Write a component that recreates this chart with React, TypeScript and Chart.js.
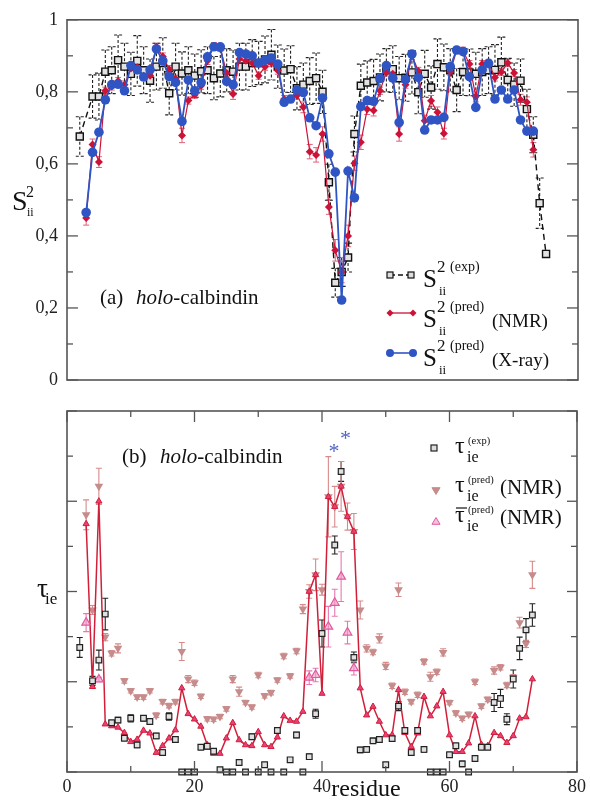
import React, { useEffect, useRef } from 'react';
import { Chart, registerables } from 'chart.js';
Chart.register(...registerables);

const SERIF = '"Liberation Serif", "Times New Roman", serif';

// residue numbers
const residues = [2,3,4,5,6,7,8,9,10,11,12,13,14,15,16,17,18,19,20,21,22,23,24,25,26,27,28,29,30,31,32,33,34,35,36,37,38,39,40,41,42,43,44,45,46,47,48,49,50,51,52,53,54,55,56,57,58,59,60,61,62,63,64,65,66,67,68,69,70,71,72,73,74,75];

// (a) order parameters S2
const topExp = [0.676,null,0.787,0.787,0.856,0.86,0.888,0.87,0.85,0.886,0.86,0.831,0.87,0.88,0.796,0.87,0.851,0.86,0.845,0.857,0.86,0.838,0.851,0.86,0.856,0.87,0.87,0.88,0.88,0.89,0.903,0.87,0.859,0.863,0.81,0.82,0.83,0.838,0.80,0.549,0.27,0.30,0.34,0.683,0.817,0.826,0.83,0.84,0.86,0.863,0.838,0.839,0.854,0.799,0.85,0.812,0.877,0.868,0.86,0.805,0.855,0.854,0.85,0.855,0.86,0.861,0.882,0.833,0.82,0.831,0.752,0.681,0.491,0.35];
const topExpErr = [0.055,0,0.06,0.065,0.06,0.065,0.07,0.065,0.06,0.07,0.065,0.06,0.065,0.07,0.06,0.065,0.06,0.065,0.06,0.06,0.065,0.06,0.065,0.06,0.06,0.065,0.065,0.065,0.06,0.065,0.07,0.06,0.06,0.065,0.06,0.06,0.065,0.07,0.06,0.05,0.04,0.04,0.04,0.05,0.06,0.06,0.06,0.065,0.06,0.065,0.06,0.065,0.06,0.06,0.065,0.06,0.07,0.065,0.06,0.06,0.065,0.065,0.06,0.065,0.065,0.07,0.07,0.06,0.06,0.06,0.055,0.05,0.07,0];
const topNMR = [null,0.45,0.654,0.605,0.803,0.815,0.83,0.82,0.865,0.868,0.845,0.845,0.925,0.898,0.863,0.836,0.679,0.776,0.792,0.817,0.886,0.927,0.922,0.852,0.794,0.891,0.886,0.88,0.845,0.87,0.88,0.859,0.78,0.78,0.79,0.757,0.634,0.625,0.683,0.48,0.36,0.30,0.40,0.602,0.66,0.752,0.748,0.803,0.854,0.85,0.683,0.82,0.9,0.858,0.72,0.775,0.743,0.684,0.855,0.916,0.914,0.877,0.787,0.877,0.88,0.84,0.855,0.88,0.852,0.778,0.771,0.639,null,null];
const topNMRErr = [0,0.02,0.015,0.015,0.01,0.01,0.01,0.01,0.01,0.01,0.01,0.01,0.01,0.01,0.01,0.01,0.02,0.01,0.01,0.01,0.01,0.01,0.01,0.01,0.015,0.01,0.01,0.01,0.01,0.01,0.01,0.01,0.01,0.01,0.01,0.015,0.02,0.02,0.02,0.02,0.03,0.03,0.03,0.02,0.02,0.015,0.015,0.01,0.01,0.01,0.02,0.01,0.01,0.01,0.015,0.015,0.015,0.015,0.01,0.01,0.01,0.01,0.015,0.01,0.01,0.01,0.01,0.01,0.01,0.015,0.015,0.02,0,0];
const topXray = [null,0.465,0.632,0.688,0.778,0.82,0.821,0.803,0.873,0.861,0.841,0.861,0.919,0.886,0.842,0.826,0.718,0.833,0.803,0.826,0.897,0.925,0.925,0.829,0.82,0.909,0.905,0.9,0.88,0.888,0.894,0.877,0.771,0.78,0.805,0.798,0.728,0.706,0.783,0.628,0.577,0.222,0.58,0.506,0.759,0.776,0.774,0.837,0.873,0.838,0.715,0.834,0.905,0.84,0.694,0.722,0.722,0.729,0.87,0.916,0.912,0.842,0.757,0.861,0.879,0.78,0.805,0.78,0.805,0.722,0.691,0.691,null,null];
const topYTicks = [0, 0.2, 0.4, 0.6, 0.8, 1];

// (b) correlation times tau_ie (residues 2..73)
const botExp = [2.76,null,2.02,2.48,3.50,1.09,1.15,0.75,1.19,0.60,1.19,1.12,0.80,0.43,1.23,0.72,0,0,0,0.55,0.57,0.46,0.05,0,0,0.21,0,0.78,0,0.16,0,0.92,0,0.27,0.82,0,0.34,1.29,3.07,null,5.03,6.66,null,2.54,0.49,0.50,0.69,0.72,0.16,0.74,1.46,0.92,0.43,0.92,0.50,0,0,0,0.38,0.58,0.18,0,0.30,0.55,0.55,1.54,1.63,1.17,2.06,2.74,3.15,3.48];
const botExpErr = [0.22,0,0.1,0.22,0.35,0.06,0.06,0.06,0.08,0.06,0.06,0.06,0.06,0.06,0.08,0.06,0.05,0.05,0.05,0.06,0.06,0.06,0.05,0.05,0.05,0.06,0.05,0.06,0.05,0.05,0.05,0.06,0.05,0.05,0.06,0.05,0.06,0.1,0.3,0,0.2,0.22,0,0.12,0.06,0.06,0.06,0.06,0.05,0.06,0.1,0.06,0.06,0.06,0.06,0.05,0.05,0.05,0.06,0.06,0.06,0.05,0.06,0.06,0.06,0.2,0.2,0.12,0.2,0.25,0.25,0.25];
const botPredNMR = [null,5.70,3.59,6.33,2.99,2.63,2.74,2.02,1.80,1.66,1.66,1.80,1.26,1.56,1.47,1.56,2.67,2.06,1.98,1.68,1.18,1.17,1.23,1.40,2.06,1.78,1.54,1.44,2.15,1.69,1.76,2.04,2.57,2.13,2.68,3.61,4.00,4.37,4.04,6.10,5.88,6.33,5.66,5.33,3.59,2.74,2.66,2.96,2.35,1.91,4.04,1.78,1.56,1.71,2.45,2.11,2.22,2.65,1.54,1.31,1.19,1.28,2.00,1.46,1.61,2.25,2.32,1.93,2.10,3.31,2.84,4.37];
const botPredNMRErr = [0,0.33,0.1,0.4,0.08,0.06,0.1,0.05,0.05,0.05,0.05,0.05,0.05,0.05,0.05,0.05,0.2,0.08,0.06,0.05,0.05,0.05,0.05,0.05,0.08,0.1,0.05,0.05,0.06,0.05,0.05,0.05,0.06,0.05,0.06,0.1,0.15,0.35,0.12,0.89,0.45,0.55,0.3,0.4,0.2,0.08,0.06,0.1,0.08,0.06,0.15,0.06,0.05,0.06,0.06,0.1,0.06,0.08,0.05,0.05,0.05,0.05,0.06,0.05,0.05,0.08,0.06,0.06,0.06,0.12,0.08,0.3];
const botLine = [null,5.5,1.89,6.0,1.06,1.02,0.99,0.87,0.67,0.72,0.92,0.86,0.43,0.58,0.75,0.93,1.86,1.29,1.17,1.01,0.60,0.41,0.41,0.75,1.09,0.71,0.60,0.58,0.89,0.60,0.56,0.77,1.24,1.14,1.12,1.34,4.0,4.37,1.74,6.10,5.88,6.33,5.66,5.33,1.86,1.26,1.45,1.12,0.82,0.82,1.82,0.87,0.56,0.86,1.67,1.24,1.46,1.78,0.82,0.45,0.45,0.64,1.24,0.61,0.58,0.87,0.80,0.65,0.80,1.19,1.22,2.06];
const botBarRes = [3,5,38,39,41,42,43,44,45];
const botBarVals = [3.31,2.05,2.09,2.15,3.22,3.75,4.33,3.09,2.30];
const botBarErr = [0.2,0.05,0.15,0.15,0.45,0.3,0.55,0.25,0.15];
const starRes = [41.9, 43.7];
const starVals = [7.2, 7.5];
const xTickLabels = [0, 20, 40, 60, 80];

const pts = (vals: (number | null)[]) => vals.map((v, i) => ({ x: residues[i], y: v }));

const errorBarPlugin = {
  id: 'errorBars',
  beforeDatasetsDraw(chart: any) {
    const ctx = chart.ctx;
    chart.data.datasets.forEach((ds: any, di: number) => {
      if (!ds.errors) return;
      const meta = chart.getDatasetMeta(di);
      const xs = chart.scales[meta.xAxisID];
      const ys = chart.scales[meta.yAxisID];
      ctx.save();
      ctx.strokeStyle = ds.errorColor;
      ctx.lineWidth = ds.errorWidth || 1;
      ctx.setLineDash(ds.errorDash || []);
      const cap = ds.errorCap || 3;
      ds.data.forEach((p: any, i: number) => {
        const e = ds.errors[i];
        if (!p || p.y == null || !e) return;
        const x = xs.getPixelForValue(p.x);
        const y1 = ys.getPixelForValue(p.y + e);
        const y2 = ys.getPixelForValue(p.y - e);
        ctx.beginPath();
        ctx.moveTo(x, y1); ctx.lineTo(x, y2);
        ctx.moveTo(x - cap, y1); ctx.lineTo(x + cap, y1);
        ctx.moveTo(x - cap, y2); ctx.lineTo(x + cap, y2);
        ctx.stroke();
      });
      ctx.restore();
    });
  },
};

function line(ctx: CanvasRenderingContext2D, x1: number, y1: number, x2: number, y2: number) {
  ctx.beginPath(); ctx.moveTo(x1, y1); ctx.lineTo(x2, y2); ctx.stroke();
}

function txt(ctx: CanvasRenderingContext2D, s: string, x: number, y: number, size: number, italic = false, color = '#111', align: CanvasTextAlign = 'left') {
  ctx.font = `${italic ? 'italic ' : ''}${size}px ${SERIF}`;
  ctx.fillStyle = color;
  ctx.textAlign = align;
  ctx.textBaseline = 'alphabetic';
  ctx.fillText(s, x, y);
  return ctx.measureText(s).width;
}

function tri(ctx: CanvasRenderingContext2D, x: number, y: number, r: number, down: boolean, fill: string, stroke: string) {
  const h = r * 1.5;
  const s = down ? -1 : 1;
  ctx.beginPath();
  ctx.moveTo(x, y - s * h * 0.66);
  ctx.lineTo(x - r * 0.9, y + s * h * 0.34);
  ctx.lineTo(x + r * 0.9, y + s * h * 0.34);
  ctx.closePath();
  ctx.fillStyle = fill; ctx.fill();
  ctx.strokeStyle = stroke; ctx.lineWidth = 1; ctx.stroke();
}

const topDecor = {
  id: 'topDecor',
  afterDraw(chart: any) {
    const ctx: CanvasRenderingContext2D = chart.ctx;
    const { left, right, top, bottom } = chart.chartArea;
    const y = chart.scales.y;
    ctx.save();
    ctx.strokeStyle = '#555';
    ctx.lineWidth = 1.6;
    ctx.strokeRect(left, top, right - left, bottom - top);
    ctx.lineWidth = 1.3;
    y.ticks.forEach((t: any) => {
      const p = y.getPixelForValue(t.value);
      const major = Math.round(t.value * 10) % 2 === 0;
      const len = major ? 11 : 6;
      line(ctx, left, p, left + len, p);
      line(ctx, right, p, right - len, p);
    });
    // axis title S^2_ii
    txt(ctx, 'S', 12, 210, 28);
    txt(ctx, '2', 26, 197, 16);
    txt(ctx, 'ii', 27, 216, 12);
    // panel label
    let x = 100;
    x += txt(ctx, '(a)', x, 304, 21);
    x = 136;
    x += txt(ctx, 'holo', x, 304, 21, true);
    txt(ctx, '-calbindin', x, 304, 21);
    // legend
    ctx.setLineDash([5, 3]);
    ctx.strokeStyle = '#111'; ctx.lineWidth = 1.3;
    line(ctx, 390, 275, 411, 275);
    ctx.setLineDash([]);
    [390, 411].forEach((mx) => {
      ctx.fillStyle = '#ddd'; ctx.fillRect(mx - 3, 272, 6, 6);
      ctx.strokeStyle = '#111'; ctx.lineWidth = 1.2; ctx.strokeRect(mx - 3, 272, 6, 6);
    });
    ctx.strokeStyle = '#cc1236'; ctx.lineWidth = 1.3;
    line(ctx, 390, 313, 413, 313);
    [390, 413].forEach((mx) => {
      ctx.fillStyle = '#cc1236';
      ctx.beginPath(); ctx.moveTo(mx, 309.5); ctx.lineTo(mx + 3.5, 313); ctx.lineTo(mx, 316.5); ctx.lineTo(mx - 3.5, 313); ctx.closePath(); ctx.fill();
    });
    ctx.strokeStyle = '#2f55c4'; ctx.lineWidth = 1.6;
    line(ctx, 390, 353, 413, 353);
    [390, 413].forEach((mx) => {
      ctx.fillStyle = '#2f55c4';
      ctx.beginPath(); ctx.arc(mx, 353, 4, 0, Math.PI * 2); ctx.fill();
    });
    const rows: [number, string, string][] = [[287, '(exp)', ''], [327, '(pred)', '(NMR)'], [366, '(pred)', '(X-ray)']];
    rows.forEach(([b, sup, tail]) => {
      txt(ctx, 'S', 423, b, 25);
      txt(ctx, '2', 437, b - 15, 17);
      txt(ctx, sup, 450, b - 16, 14);
      txt(ctx, 'ii', 439, b + 8, 13);
      if (tail) txt(ctx, tail, 492, b, 19);
    });
    ctx.restore();
  },
};

const botDecor = {
  id: 'botDecor',
  afterDraw(chart: any) {
    const ctx: CanvasRenderingContext2D = chart.ctx;
    const { left, right, top, bottom } = chart.chartArea;
    const y = chart.scales.y;
    const xs = chart.scales.x;
    ctx.save();
    ctx.strokeStyle = '#555';
    ctx.lineWidth = 1.6;
    ctx.strokeRect(left, top, right - left, bottom - top);
    ctx.lineWidth = 1.3;
    y.ticks.forEach((t: any) => {
      const p = y.getPixelForValue(t.value);
      const len = Math.round(t.value) % 2 === 0 ? 10 : 6;
      line(ctx, left, p, left + len, p);
      line(ctx, right, p, right - len, p);
    });
    xs.ticks.forEach((t: any) => {
      const p = xs.getPixelForValue(t.value);
      const len = Math.round(t.value) % 20 === 0 ? 11 : 6;
      line(ctx, p, bottom, p, bottom - len);
      line(ctx, p, top, p, top + len);
    });
    // asterisks
    starRes.forEach((r, i) => {
      txt(ctx, '*', xs.getPixelForValue(r), y.getPixelForValue(starVals[i]) + 11, 22, false, '#5064c4', 'center');
    });
    // axis title tau_ie
    txt(ctx, 'τ', 37, 197, 27);
    txt(ctx, 'ie', 45, 204, 17);
    // x title
    txt(ctx, 'residue', 366, 396, 24, false, '#111', 'center');
    // panel label
    let x = 122;
    txt(ctx, '(b)', x, 63, 21);
    x = 160;
    x += txt(ctx, 'holo', x, 63, 21, true);
    txt(ctx, '-calbindin', x, 63, 21);
    // legend
    ctx.fillStyle = '#ddd'; ctx.fillRect(431, 45, 6, 6);
    ctx.strokeStyle = '#222'; ctx.lineWidth = 1.2; ctx.strokeRect(431, 45, 6, 6);
    tri(ctx, 436, 90, 4.5, true, '#c68b8b', '#c68b8b');
    tri(ctx, 436, 122, 4.5, false, 'rgba(240,150,200,0.6)', '#e05a9e');
    const rows: [number, string, string, boolean][] = [[53, '(exp)', '', false], [92, '(pred)', '(NMR)', false], [122, '(pred)', '(NMR)', true]];
    rows.forEach(([b, sup, tail, bar]) => {
      txt(ctx, 'τ', 455, b, 24);
      txt(ctx, sup, 468, b - 9, 10.5);
      txt(ctx, 'ie', 467, b + 9, 16);
      if (bar) { ctx.strokeStyle = '#111'; ctx.lineWidth = 1.2; line(ctx, 456, b - 14, 467, b - 14); }
      if (tail) txt(ctx, tail, 500, b + 2, 21);
    });
    ctx.restore();
  },
};

export default function App() {
  const topRef = useRef<HTMLCanvasElement>(null);
  const botRef = useRef<HTMLCanvasElement>(null);

  useEffect(() => {
    const topChart = new Chart(topRef.current!, {
      type: 'line',
      data: {
        datasets: [
          {
            label: 'S2 pred (X-ray)', data: pts(topXray), borderColor: '#2f55c4', backgroundColor: '#2f55c4',
            borderWidth: 1.8, pointRadius: 4.8, pointStyle: 'circle', pointBorderWidth: 0, clip: false,
          } as any,
          {
            label: 'S2 pred (NMR)', data: pts(topNMR), borderColor: '#cc1236', backgroundColor: '#cc1236',
            borderWidth: 1.2, pointRadius: 4, pointStyle: 'rectRot', pointBorderWidth: 0, clip: false,
            errors: topNMRErr, errorColor: '#e0607a', errorWidth: 1, errorCap: 3,
          } as any,
          {
            label: 'S2 exp', data: pts(topExp), borderColor: '#111', backgroundColor: '#e2e2e2',
            borderWidth: 1.4, borderDash: [6, 4], pointRadius: 5, pointStyle: 'rect', pointBorderWidth: 1.4,
            spanGaps: true, clip: false,
            errors: topExpErr, errorColor: '#222', errorWidth: 1.1, errorDash: [3, 2], errorCap: 4,
          } as any,
        ],
      },
      options: {
        animation: false,
        responsive: false,
        layout: { padding: { top: 19, right: 12, bottom: 20, left: 0 } },
        plugins: { legend: { display: false }, tooltip: { enabled: false } },
        scales: {
          x: { type: 'linear', min: 0, max: 80, display: false },
          y: {
            min: 0, max: 1,
            grid: { display: false, drawTicks: false },
            border: { display: false },
            ticks: {
              stepSize: 0.1, padding: 9, color: '#222', font: { family: SERIF, size: 18 },
              callback: (v: any) => {
                const n = Math.round(Number(v) * 10) / 10;
                if (!topYTicks.some((t) => Math.abs(t - n) < 1e-6)) return '';
                return n === 0 ? '0' : n === 1 ? '1' : n.toFixed(1).replace('.', ',');
              },
            },
            afterFit: (s: any) => { s.width = 67; },
          },
        },
      },
      plugins: [errorBarPlugin, topDecor],
    } as any);

    const botChart = new Chart(botRef.current!, {
      type: 'line',
      data: {
        datasets: [
          {
            label: 'tau exp', data: pts(botExp), showLine: false, borderColor: '#222', backgroundColor: '#e0e0e0',
            pointRadius: 4, pointStyle: 'rect', pointBorderWidth: 1.2, clip: false,
            errors: botExpErr, errorColor: '#222', errorWidth: 1.1, errorCap: 3,
          } as any,
          {
            label: 'tau bar pred', data: botBarRes.map((r, i) => ({ x: r, y: botBarVals[i] })), showLine: false,
            borderColor: '#e05a9e', backgroundColor: 'rgba(240,150,200,0.6)',
            pointRadius: 5, pointStyle: 'triangle', pointBorderWidth: 1.2, clip: false,
            errors: botBarErr, errorColor: '#e878b0', errorWidth: 1.1, errorCap: 3,
          } as any,
          {
            label: 'tau line', data: pts(botLine), borderColor: '#d11f3a', backgroundColor: '#e8407a',
            borderWidth: 1.5, pointRadius: 3.6, pointStyle: 'triangle', pointBorderWidth: 1, pointBorderColor: '#d11f3a',
            clip: false,
          } as any,
          {
            label: 'tau pred NMR', data: pts(botPredNMR), showLine: false, borderColor: '#c68b8b', backgroundColor: '#c68b8b',
            pointRadius: 5, pointStyle: 'triangle', rotation: 180, pointRotation: 180, pointBorderWidth: 0, clip: false,
            errors: botPredNMRErr, errorColor: '#d88a8a', errorWidth: 1.1, errorCap: 3,
          } as any,
        ],
      },
      options: {
        animation: false,
        responsive: false,
        layout: { padding: { top: 11, right: 12, bottom: 0, left: 0 } },
        plugins: { legend: { display: false }, tooltip: { enabled: false } },
        scales: {
          x: {
            type: 'linear', min: 0, max: 80,
            grid: { display: false, drawTicks: false },
            border: { display: false },
            ticks: {
              stepSize: 10, padding: 4, color: '#222', font: { family: SERIF, size: 18 }, maxRotation: 0,
              callback: (v: any) => (xTickLabels.includes(Number(v)) ? String(v) : ''),
            },
            afterFit: (s: any) => { s.height = 28; },
          },
          y: {
            min: 0, max: 8,
            grid: { display: false, drawTicks: false },
            border: { display: false },
            ticks: { stepSize: 1, display: false },
            afterFit: (s: any) => { s.width = 67; },
          },
        },
      },
      plugins: [errorBarPlugin, botDecor],
    } as any);

    return () => { topChart.destroy(); botChart.destroy(); };
  }, []);

  return (
    <div style={{ position: 'relative', width: 590, height: 800 }}>
      <style>{'body{margin:0;}'}</style>
      <canvas ref={topRef} width={590} height={400} style={{ position: 'absolute', left: 0, top: 0 }} />
      <canvas ref={botRef} width={590} height={400} style={{ position: 'absolute', left: 0, top: 400 }} />
    </div>
  );
}
